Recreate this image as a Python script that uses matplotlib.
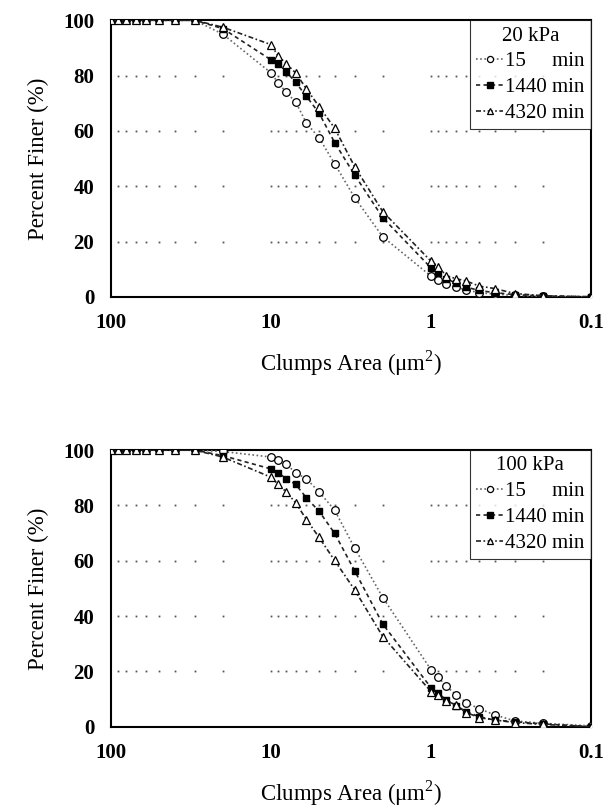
import numpy as np
import matplotlib
matplotlib.use("Agg")
import matplotlib.pyplot as plt
from matplotlib.ticker import FixedLocator, LogLocator, NullFormatter

plt.rcParams["font.family"] = ["Liberation Serif", "DejaVu Serif"]
plt.rcParams["mathtext.fontset"] = "custom"
plt.rcParams["mathtext.rm"] = "Liberation Serif"

# clump area classes (um^2), same for every series
area = [100, 90, 80, 70, 60, 50, 40, 30, 20,
        10, 9, 8, 7, 6, 5, 4, 3, 2,
        1, 0.9, 0.8, 0.7, 0.6, 0.5, 0.4, 0.3, 0.2, 0.1]

# 20 kPa, percent finer
p20_15 = [100, 100, 100, 100, 100, 100, 100, 100, 95,
          81, 77.3, 73.9, 70.4, 62.8, 57.5, 48.1, 35.9, 21.7,
          7.5, 6.0, 4.5, 3.5, 2.5, 1.5, 1.0, 0.5, 0.2, 0]
p20_1440 = [100, 100, 100, 100, 100, 100, 100, 100, 97,
            85.7, 84.2, 81.3, 77.5, 72.5, 66.4, 55.8, 44.1, 28.6,
            10.5, 8.5, 6.5, 5.0, 3.5, 2.3, 1.5, 0.8, 0.3, 0]
p20_4320 = [100, 100, 100, 100, 100, 100, 100, 100, 97.5,
            91.2, 87, 84.3, 80.9, 75.2, 68.8, 61, 47.1, 30.8,
            12.9, 10.9, 7.6, 6.6, 5.7, 3.9, 3.0, 1.2, 0.4, 0]

# 100 kPa, percent finer
p100_15 = [100, 100, 100, 100, 100, 100, 100, 100, 99.5,
           97.5, 96.6, 94.8, 91.8, 89.6, 84.9, 78.3, 64.6, 46.7,
           20.6, 17.8, 14.6, 11.6, 8.7, 6.5, 4.3, 2.1, 1.2, 0.3]
p100_1440 = [100, 100, 100, 100, 100, 100, 100, 100, 98,
             93.2, 91.8, 89.6, 87.6, 82.7, 77.9, 69.9, 56.4, 37.1,
             14.1, 12.0, 9.7, 7.5, 5.4, 3.6, 2.4, 1.8, 1.0, 0]
p100_4320 = [100, 100, 100, 100, 100, 100, 100, 100, 97.5,
             90.2, 87.6, 84.8, 80.9, 74.9, 68.4, 60.1, 49.5, 32.6,
             12.7, 11.5, 9.3, 7.9, 5.1, 3.3, 2.4, 1.5, 0.8, 0]

panels = [
    ("20 kPa", p20_15, p20_1440, p20_4320),
    ("100 kPa", p100_15, p100_1440, p100_4320),
]

yticks = [0, 20, 40, 60, 80, 100]
xticks = [100, 10, 1, 0.1]
xticklabels = ["100", "10", "1", "0.1"]

fig = plt.figure(figsize=(6.03, 8.11), dpi=100)
boxes = [[0.184, 0.634, 0.796, 0.341], [0.184, 0.104, 0.796, 0.341]]

for box, (title, s15, s1440, s4320) in zip(boxes, panels):
    ax = fig.add_axes(box)
    ax.set_xscale("log")
    ax.set_xlim(100, 0.1)
    ax.set_ylim(0, 100)

    # dotted gridlines: dots at the minor log positions
    dots = LogLocator(base=10, subs=np.arange(1, 10)).tick_values(0.1, 100)
    dots = [d for d in dots if 0.1 < d < 100]
    for g in yticks[1:-1]:
        ax.plot(dots, [g] * len(dots), linestyle="none", marker="s",
                markersize=1.3, color="#555555", markeredgewidth=0, zorder=1)

    ax.plot(area, s15, linestyle=(0, (1, 1.5)), color="#666666", linewidth=1.2,
            marker="o", markersize=5.5, markerfacecolor="white",
            markeredgecolor="black", markeredgewidth=0.9,
            label="15     min", zorder=3)
    ax.plot(area, s1440, linestyle=(0, (2.5, 2)), color="#222222", linewidth=1.2,
            marker="s", markersize=5, markerfacecolor="black",
            markeredgecolor="black", label="1440 min", zorder=3)
    ax.plot(area, s4320, linestyle=(0, (3, 1.5, 1, 1.5)), color="#222222",
            linewidth=1.2, marker="^", markersize=5.5, markerfacecolor="white",
            markeredgecolor="black", markeredgewidth=0.9,
            label="4320 min", zorder=3)

    ax.xaxis.set_major_locator(FixedLocator(xticks))
    ax.set_xticklabels(xticklabels)
    ax.xaxis.set_minor_formatter(NullFormatter())
    ax.set_yticks(yticks)
    ax.tick_params(axis="both", which="both", length=0, labelsize=15)
    ax.tick_params(axis="x", pad=12)
    ax.tick_params(axis="y", pad=12)
    for lab in ax.get_xticklabels() + ax.get_yticklabels():
        lab.set_fontweight("bold")

    for sp in ax.spines.values():
        sp.set_linewidth(1.5)

    ax.set_xlabel("Clumps Area (\u03bcm$^{2}$)", fontsize=16.5, labelpad=11)
    ax.set_ylabel("Percent Finer (%)", fontsize=16.5, labelpad=10)

    leg = ax.legend(title=title, loc="upper right", borderaxespad=0,
                    fontsize=15, title_fontsize=15, frameon=True, fancybox=False,
                    handlelength=1.3, handletextpad=0.1, borderpad=0.3,
                    labelspacing=0.3, markerscale=0.8)
    leg.get_frame().set_edgecolor("black")
    leg.get_frame().set_linewidth(0.8)
    leg.set_zorder(5)

fig.savefig("out.png", dpi=100)
